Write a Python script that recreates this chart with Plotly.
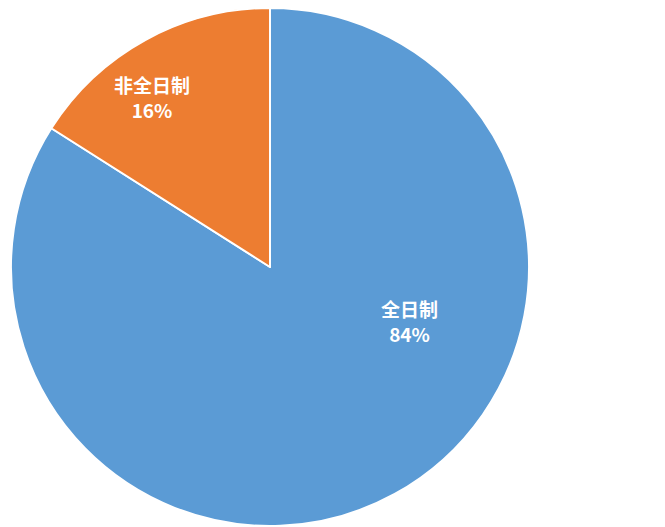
import plotly.graph_objects as go

labels = ["全日制", "非全日制"]
values = [84, 16]
colors = ["#5b9bd5", "#ed7d31"]
# label anchor positions (paper coords)
label_pos = [(0.6045, 0.406), (0.2165, 0.831)]

total = sum(values)

fig = go.Figure(go.Pie(
    labels=labels,
    values=values,
    sort=False,
    direction="clockwise",
    rotation=0,
    marker=dict(colors=colors, line=dict(color="white", width=2)),
    textinfo="none",
    domain=dict(x=[3 / 665, 521 / 665], y=[1 - 518 / 527, 1.0]),
    showlegend=False,
    hoverinfo="label+percent",
))

for lab, val, (px, py) in zip(labels, values, label_pos):
    fig.add_annotation(
        x=px, y=py, xref="paper", yref="paper",
        text=f"{lab}<br>{round(100 * val / total)}%",
        showarrow=False,
        font=dict(family="Noto Sans CJK SC", size=19, color="white", weight="bold"),
        xanchor="center", yanchor="middle", align="center",
    )

fig.update_layout(
    width=665, height=527,
    margin=dict(l=0, r=0, t=0, b=0),
    paper_bgcolor="white",
    plot_bgcolor="white",
)

fig.write_html("out.html")
